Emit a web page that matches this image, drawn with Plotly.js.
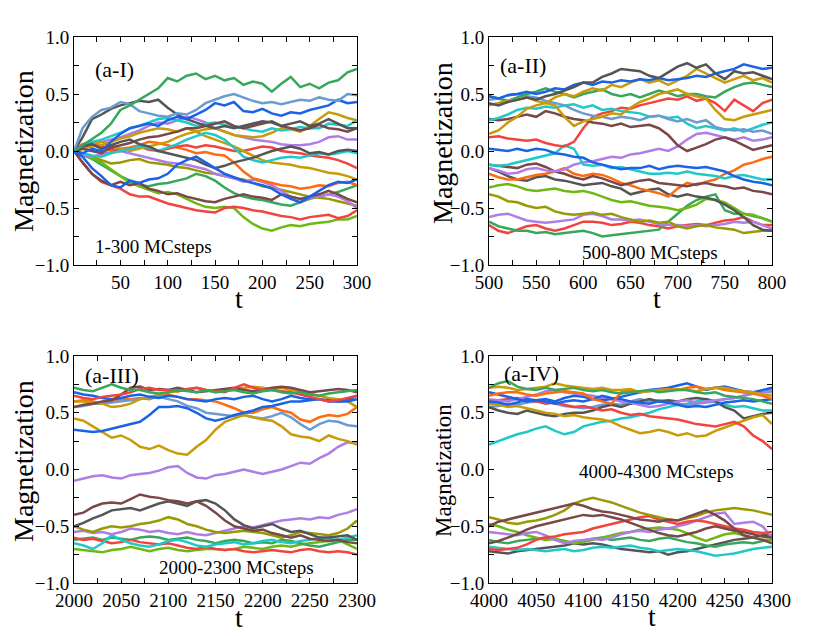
<!DOCTYPE html>
<html><head><meta charset="utf-8">
<script src="https://cdn.plot.ly/plotly-3.0.1.min.js"></script>
<style>html,body{margin:0;padding:0;background:#fff}#chart{width:830px;height:636px}</style>
</head><body><div id="chart"></div>
<script>
// ---------- time grids (every 10 MC steps) ----------
const t1 = [1,10,20,30,40,50,60,70,80,90,100,110,120,130,140,150,160,170,180,190,200,210,220,230,240,250,260,270,280,290,300];
const t2 = [500,510,520,530,540,550,560,570,580,590,600,610,620,630,640,650,660,670,680,690,700,710,720,730,740,750,760,770,780,790,800];
const t3 = [2000,2010,2020,2030,2040,2050,2060,2070,2080,2090,2100,2110,2120,2130,2140,2150,2160,2170,2180,2190,2200,2210,2220,2230,2240,2250,2260,2270,2280,2290,2300];
const t4 = [4000,4010,4020,4030,4040,4050,4060,4070,4080,4090,4100,4110,4120,4130,4140,4150,4160,4170,4180,4190,4200,4210,4220,4230,4240,4250,4260,4270,4280,4290,4300];

// ---------- panel (a-I) 1-300 MCsteps ----------
const p1_green   = [0,0.05,0.1,0.16,0.24,0.36,0.4,0.45,0.5,0.55,0.64,0.61,0.66,0.68,0.63,0.66,0.62,0.64,0.58,0.61,0.59,0.52,0.59,0.65,0.56,0.59,0.55,0.6,0.62,0.69,0.72];
const p1_steel   = [0,0.2,0.3,0.36,0.38,0.43,0.41,0.35,0.33,0.31,0.3,0.33,0.32,0.36,0.42,0.45,0.48,0.5,0.47,0.44,0.42,0.43,0.41,0.43,0.45,0.44,0.47,0.45,0.44,0.5,0.49];
const p1_blueA   = [0,-0.02,0.02,0,0.08,0.15,0.2,0.22,0.24,0.22,0.27,0.3,0.28,0.32,0.36,0.42,0.4,0.43,0.35,0.34,0.37,0.33,0.31,0.34,0.33,0.36,0.38,0.4,0.45,0.42,0.43];
const p1_blueB   = [0,-0.05,-0.15,-0.22,-0.3,-0.32,-0.26,-0.28,-0.25,-0.24,-0.2,-0.12,-0.08,-0.05,-0.1,-0.15,-0.2,-0.23,-0.26,-0.28,-0.3,-0.33,-0.38,-0.42,-0.45,-0.4,-0.35,-0.3,-0.27,-0.28,-0.25];
const p1_grayA   = [0,0.12,0.28,0.32,0.37,0.4,0.42,0.44,0.43,0.45,0.38,0.32,0.28,0.25,0.22,0.2,0.22,0.2,0.22,0.24,0.26,0.25,0.22,0.24,0.26,0.22,0.24,0.28,0.24,0.2,0.2];
const p1_grayB   = [0,0.04,0.06,0.02,0.05,0.08,0.1,0.06,0.04,0,-0.02,-0.04,-0.06,-0.08,-0.12,-0.15,-0.13,-0.1,-0.08,-0.06,-0.03,0,0.02,0.04,0.02,-0.02,-0.01,-0.03,0,0.01,0];
const p1_brownA  = [0,-0.1,-0.2,-0.26,-0.3,-0.27,-0.3,-0.28,-0.33,-0.35,-0.38,-0.37,-0.4,-0.42,-0.44,-0.45,-0.42,-0.4,-0.38,-0.4,-0.41,-0.43,-0.38,-0.4,-0.42,-0.4,-0.38,-0.35,-0.38,-0.42,-0.45];
const p1_brownB  = [0,0.02,0,-0.02,0.03,0.05,0.07,0.1,0.12,0.13,0.15,0.17,0.2,0.2,0.22,0.24,0.26,0.22,0.2,0.22,0.24,0.26,0.22,0.2,0.18,0.2,0.23,0.2,0.19,0.17,0.2];
const p1_cyanA   = [0,0.04,0.08,0.1,0.13,0.16,0.2,0.22,0.25,0.28,0.29,0.27,0.25,0.22,0.24,0.25,0.23,0.21,0.2,0.18,0.17,0.2,0.18,0.19,0.21,0.2,0.2,0.24,0.23,0.22,0.27];
const p1_cyanB   = [0,-0.02,-0.04,-0.05,-0.02,0,0.02,0.04,0.03,0,0.03,0.06,0.1,0.13,0.16,0.14,0.1,0.03,-0.05,-0.08,-0.1,-0.08,-0.06,-0.05,-0.06,-0.04,-0.02,-0.03,-0.02,0,-0.02];
const p1_goldA   = [0,0.02,0.04,0.05,0.08,0.11,0.13,0.16,0.18,0.2,0.19,0.17,0.2,0.17,0.13,0.1,0.07,0.04,0,-0.04,-0.08,-0.1,-0.11,-0.12,-0.14,-0.15,-0.17,-0.19,-0.2,-0.22,-0.25];
const p1_goldB   = [0,0.04,0.06,0.08,0.05,0.02,0,0.02,0.04,0.06,0.08,0.12,0.15,0.17,0.19,0.2,0.17,0.14,0.13,0.12,0.13,0.16,0.2,0.19,0.17,0.22,0.28,0.34,0.32,0.29,0.27];
const p1_redA    = [0,-0.1,-0.2,-0.27,-0.3,-0.33,-0.38,-0.4,-0.4,-0.43,-0.46,-0.48,-0.5,-0.52,-0.53,-0.54,-0.5,-0.49,-0.5,-0.52,-0.53,-0.55,-0.57,-0.58,-0.6,-0.58,-0.57,-0.56,-0.59,-0.57,-0.52];
const p1_redB    = [0,0.06,0.08,0.04,0.02,0,0.02,0.04,0.01,0,0.02,0.04,0.05,0.03,0.05,0.04,0.02,0,0,0.02,0.04,0.03,0,-0.01,-0.02,-0.04,-0.05,-0.06,-0.08,-0.11,-0.15];
const p1_orange  = [0,0.04,0.05,0.03,0,0.02,0.03,0.05,0.08,0.07,0.05,0.03,0.01,-0.02,-0.01,-0.03,-0.04,-0.1,-0.18,-0.24,-0.26,-0.28,-0.3,-0.31,-0.33,-0.32,-0.3,-0.31,-0.28,-0.27,-0.3];
const p1_purpleA = [0,0.03,0.06,0.08,0.1,0.12,0.15,0.18,0.22,0.25,0.24,0.27,0.3,0.28,0.25,0.2,0.17,0.14,0.12,0.1,0.09,0.08,0.06,0.05,0.05,0.06,0.08,0.12,0.13,0.1,0.1];
const p1_purpleB = [0,-0.04,-0.05,-0.03,-0.01,0,-0.02,-0.04,-0.06,-0.08,-0.1,-0.11,-0.12,-0.14,-0.16,-0.2,-0.22,-0.24,-0.27,-0.25,-0.27,-0.3,-0.35,-0.4,-0.42,-0.41,-0.4,-0.38,-0.4,-0.44,-0.5];
const p1_lime    = [0,-0.03,-0.06,-0.1,-0.16,-0.22,-0.28,-0.31,-0.34,-0.37,-0.36,-0.38,-0.42,-0.46,-0.49,-0.5,-0.49,-0.5,-0.58,-0.64,-0.68,-0.7,-0.67,-0.65,-0.66,-0.64,-0.63,-0.62,-0.6,-0.6,-0.57];
const p1_olive   = [0,-0.02,-0.05,-0.08,-0.11,-0.1,-0.08,-0.07,-0.1,-0.11,-0.12,-0.14,-0.15,-0.17,-0.19,-0.2,-0.22,-0.24,-0.25,-0.28,-0.31,-0.32,-0.34,-0.36,-0.38,-0.4,-0.41,-0.42,-0.44,-0.46,-0.48];
const p1_greenB  = [0,-0.03,-0.07,-0.12,-0.17,-0.22,-0.26,-0.3,-0.31,-0.29,-0.28,-0.26,-0.24,-0.2,-0.22,-0.26,-0.32,-0.37,-0.4,-0.42,-0.43,-0.45,-0.47,-0.48,-0.45,-0.42,-0.4,-0.38,-0.36,-0.33,-0.3];

// ---------- panel (a-II) 500-800 MCsteps ----------
const p2_grayA   = [0.42,0.4,0.43,0.45,0.47,0.45,0.48,0.5,0.53,0.56,0.6,0.6,0.65,0.68,0.72,0.71,0.7,0.66,0.64,0.69,0.74,0.77,0.73,0.76,0.68,0.63,0.7,0.68,0.69,0.66,0.63];
const p2_blueA   = [0.48,0.46,0.49,0.5,0.52,0.5,0.52,0.55,0.54,0.58,0.6,0.58,0.61,0.6,0.62,0.61,0.63,0.62,0.64,0.62,0.63,0.64,0.66,0.65,0.68,0.7,0.72,0.76,0.74,0.72,0.73];
const p2_goldA   = [0.15,0.18,0.25,0.3,0.37,0.4,0.42,0.47,0.5,0.48,0.52,0.55,0.53,0.58,0.56,0.6,0.63,0.6,0.62,0.58,0.62,0.66,0.72,0.68,0.64,0.6,0.63,0.66,0.62,0.64,0.6];
const p2_goldB   = [0.4,0.42,0.44,0.45,0.47,0.44,0.42,0.4,0.3,0.22,0.26,0.28,0.3,0.33,0.32,0.38,0.43,0.46,0.5,0.52,0.54,0.5,0.48,0.46,0.36,0.28,0.27,0.3,0.32,0.34,0.36];
const p2_greenA  = [0.48,0.46,0.44,0.47,0.5,0.52,0.55,0.52,0.5,0.47,0.5,0.52,0.54,0.5,0.48,0.5,0.47,0.5,0.53,0.51,0.48,0.5,0.5,0.48,0.47,0.52,0.56,0.59,0.6,0.58,0.56];
const p2_steel   = [0.45,0.46,0.49,0.5,0.48,0.47,0.44,0.42,0.4,0.36,0.33,0.31,0.3,0.28,0.3,0.29,0.27,0.3,0.31,0.28,0.26,0.28,0.25,0.27,0.21,0.19,0.18,0.19,0.17,0.18,0.15];
const p2_cyanA   = [0.27,0.29,0.32,0.36,0.38,0.37,0.39,0.38,0.4,0.41,0.38,0.4,0.36,0.37,0.35,0.34,0.33,0.3,0.31,0.29,0.3,0.24,0.2,0.22,0.2,0.18,0.2,0.17,0.2,0.23,0.25];
const p2_brownA  = [0.28,0.27,0.28,0.3,0.32,0.3,0.35,0.33,0.3,0.28,0.27,0.25,0.24,0.22,0.24,0.21,0.22,0.23,0.2,0.14,0.05,0,0.03,0.06,0.1,0.12,0.09,0.05,0.01,0.03,0.05];
const p2_redA    = [0.12,0.13,0.11,0.1,0.09,0.1,0.07,0.05,0.04,0.08,0.2,0.3,0.33,0.35,0.38,0.37,0.4,0.42,0.44,0.46,0.45,0.48,0.44,0.46,0.42,0.35,0.45,0.4,0.35,0.42,0.45];
const p2_blueB   = [0.02,0.01,0,0.02,0,0.02,0.01,-0.02,-0.03,-0.05,-0.06,-0.1,-0.12,-0.14,-0.16,-0.15,-0.15,-0.13,-0.16,-0.14,-0.13,-0.14,-0.15,-0.14,-0.16,-0.18,-0.22,-0.25,-0.27,-0.28,-0.3];
const p2_cyanB   = [-0.12,-0.13,-0.12,-0.1,-0.08,-0.06,-0.04,-0.02,0.05,0.02,-0.12,-0.13,-0.12,-0.15,-0.14,-0.16,-0.18,-0.2,-0.2,-0.19,-0.2,-0.18,-0.2,-0.21,-0.22,-0.24,-0.22,-0.21,-0.23,-0.25,-0.25];
const p2_purpleA = [-0.15,-0.17,-0.2,-0.19,-0.16,-0.15,-0.17,-0.18,-0.16,-0.12,-0.1,-0.09,-0.07,-0.05,-0.06,-0.03,-0.02,0,0.02,0,0.04,0.1,0.15,0.16,0.14,0.12,0.1,0.12,0.09,0.1,0.12];
const p2_brownB  = [-0.12,-0.13,-0.14,-0.15,-0.12,-0.11,-0.14,-0.18,-0.2,-0.23,-0.25,-0.22,-0.24,-0.27,-0.3,-0.28,-0.26,-0.25,-0.28,-0.29,-0.3,-0.31,-0.29,-0.28,-0.3,-0.31,-0.33,-0.32,-0.35,-0.36,-0.38];
const p2_orange  = [-0.2,-0.23,-0.25,-0.25,-0.23,-0.21,-0.2,-0.18,-0.15,-0.2,-0.22,-0.2,-0.21,-0.24,-0.28,-0.3,-0.33,-0.35,-0.37,-0.4,-0.33,-0.28,-0.3,-0.27,-0.25,-0.2,-0.17,-0.12,-0.1,-0.07,-0.05];
const p2_grayB   = [-0.15,-0.18,-0.22,-0.25,-0.26,-0.23,-0.22,-0.25,-0.26,-0.28,-0.3,-0.29,-0.28,-0.31,-0.33,-0.38,-0.36,-0.34,-0.33,-0.38,-0.4,-0.38,-0.4,-0.41,-0.43,-0.47,-0.52,-0.58,-0.65,-0.69,-0.7];
const p2_lime    = [-0.32,-0.3,-0.29,-0.31,-0.34,-0.35,-0.34,-0.33,-0.35,-0.36,-0.35,-0.37,-0.4,-0.43,-0.45,-0.44,-0.46,-0.48,-0.49,-0.5,-0.52,-0.5,-0.47,-0.42,-0.43,-0.45,-0.5,-0.55,-0.56,-0.59,-0.62];
const p2_olive   = [-0.38,-0.4,-0.44,-0.45,-0.48,-0.5,-0.49,-0.53,-0.55,-0.56,-0.55,-0.54,-0.56,-0.55,-0.58,-0.6,-0.62,-0.61,-0.63,-0.62,-0.66,-0.68,-0.66,-0.65,-0.67,-0.68,-0.69,-0.72,-0.71,-0.7,-0.7];
const p2_purpleB = [-0.58,-0.56,-0.55,-0.58,-0.61,-0.62,-0.63,-0.62,-0.61,-0.6,-0.56,-0.55,-0.57,-0.6,-0.6,-0.61,-0.6,-0.62,-0.64,-0.65,-0.65,-0.66,-0.65,-0.66,-0.65,-0.64,-0.62,-0.63,-0.62,-0.65,-0.68];
const p2_greenB  = [-0.62,-0.66,-0.68,-0.7,-0.7,-0.72,-0.71,-0.73,-0.72,-0.71,-0.7,-0.72,-0.75,-0.74,-0.73,-0.72,-0.71,-0.7,-0.69,-0.62,-0.55,-0.48,-0.43,-0.4,-0.38,-0.52,-0.55,-0.55,-0.57,-0.59,-0.62];
const p2_redB    = [-0.65,-0.7,-0.72,-0.69,-0.66,-0.65,-0.68,-0.7,-0.68,-0.65,-0.62,-0.62,-0.63,-0.65,-0.64,-0.62,-0.63,-0.65,-0.66,-0.68,-0.66,-0.65,-0.64,-0.65,-0.63,-0.61,-0.6,-0.58,-0.62,-0.65,-0.65];

// ---------- panel (a-III) 2000-2300 MCsteps ----------
const p3_greenA  = [0.72,0.7,0.69,0.72,0.75,0.72,0.7,0.7,0.68,0.67,0.68,0.7,0.69,0.68,0.7,0.68,0.69,0.7,0.68,0.67,0.69,0.7,0.68,0.67,0.68,0.66,0.65,0.67,0.68,0.69,0.7];
const p3_redA    = [0.65,0.63,0.62,0.64,0.65,0.66,0.68,0.71,0.72,0.7,0.7,0.69,0.71,0.72,0.7,0.69,0.68,0.72,0.75,0.72,0.7,0.7,0.69,0.68,0.66,0.64,0.62,0.6,0.61,0.63,0.65];
const p3_brownA  = [0.55,0.57,0.58,0.6,0.61,0.66,0.72,0.73,0.7,0.71,0.7,0.72,0.7,0.68,0.69,0.7,0.71,0.72,0.7,0.69,0.7,0.72,0.73,0.72,0.7,0.68,0.69,0.7,0.71,0.7,0.68];
const p3_blueA   = [0.68,0.66,0.65,0.63,0.62,0.63,0.65,0.66,0.64,0.63,0.65,0.64,0.62,0.61,0.6,0.62,0.63,0.62,0.64,0.65,0.62,0.6,0.62,0.65,0.63,0.62,0.62,0.61,0.6,0.6,0.62];
const p3_blueB   = [0.35,0.34,0.33,0.34,0.36,0.38,0.4,0.42,0.48,0.55,0.55,0.56,0.54,0.5,0.45,0.43,0.45,0.48,0.5,0.52,0.55,0.56,0.58,0.6,0.6,0.61,0.62,0.6,0.6,0.61,0.65];
const p3_goldA   = [0.45,0.43,0.38,0.33,0.28,0.3,0.26,0.2,0.18,0.21,0.17,0.14,0.13,0.2,0.26,0.35,0.42,0.45,0.48,0.46,0.44,0.43,0.38,0.31,0.29,0.28,0.25,0.3,0.27,0.25,0.22];
const p3_goldB   = [0.6,0.6,0.59,0.58,0.55,0.56,0.58,0.62,0.64,0.66,0.68,0.69,0.7,0.72,0.7,0.68,0.7,0.71,0.72,0.73,0.72,0.71,0.72,0.7,0.69,0.67,0.65,0.63,0.62,0.6,0.55];
const p3_steel   = [0.55,0.56,0.58,0.58,0.59,0.6,0.61,0.62,0.63,0.64,0.62,0.6,0.56,0.54,0.5,0.49,0.48,0.47,0.48,0.46,0.45,0.47,0.5,0.46,0.4,0.35,0.4,0.43,0.42,0.39,0.38];
const p3_orange  = [0.6,0.61,0.6,0.58,0.6,0.62,0.62,0.63,0.62,0.65,0.66,0.64,0.62,0.62,0.61,0.6,0.57,0.54,0.5,0.5,0.53,0.55,0.52,0.5,0.44,0.42,0.46,0.48,0.47,0.49,0.55];
const p3_purpleA = [-0.1,-0.08,-0.06,-0.05,-0.07,-0.08,-0.05,-0.04,-0.03,-0.01,0.02,0.03,-0.03,-0.07,-0.08,-0.05,-0.04,-0.02,0,-0.02,-0.04,-0.02,0,0.03,0.06,0.05,0.1,0.14,0.2,0.24,0.23];
const p3_brownB  = [-0.4,-0.38,-0.33,-0.3,-0.29,-0.3,-0.26,-0.22,-0.24,-0.25,-0.27,-0.28,-0.3,-0.28,-0.32,-0.38,-0.45,-0.5,-0.52,-0.54,-0.53,-0.56,-0.58,-0.6,-0.58,-0.61,-0.62,-0.63,-0.62,-0.64,-0.65];
const p3_grayB   = [-0.5,-0.47,-0.43,-0.4,-0.36,-0.35,-0.34,-0.36,-0.33,-0.3,-0.28,-0.3,-0.32,-0.28,-0.27,-0.3,-0.36,-0.44,-0.49,-0.52,-0.5,-0.48,-0.52,-0.55,-0.54,-0.57,-0.6,-0.6,-0.59,-0.58,-0.62];
const p3_olive   = [-0.5,-0.53,-0.55,-0.52,-0.5,-0.51,-0.5,-0.48,-0.47,-0.45,-0.42,-0.44,-0.48,-0.5,-0.53,-0.55,-0.56,-0.55,-0.54,-0.55,-0.56,-0.58,-0.6,-0.58,-0.55,-0.56,-0.57,-0.58,-0.56,-0.52,-0.45];
const p3_purpleB = [-0.55,-0.54,-0.56,-0.55,-0.57,-0.55,-0.52,-0.53,-0.55,-0.54,-0.56,-0.57,-0.55,-0.57,-0.58,-0.56,-0.54,-0.52,-0.5,-0.51,-0.49,-0.47,-0.45,-0.44,-0.43,-0.44,-0.42,-0.43,-0.4,-0.38,-0.35];
const p3_redB    = [-0.6,-0.62,-0.61,-0.63,-0.65,-0.64,-0.62,-0.64,-0.65,-0.66,-0.65,-0.67,-0.69,-0.7,-0.68,-0.7,-0.71,-0.7,-0.72,-0.73,-0.72,-0.71,-0.72,-0.73,-0.71,-0.7,-0.72,-0.73,-0.72,-0.73,-0.75];
const p3_greenB  = [-0.62,-0.61,-0.6,-0.62,-0.6,-0.61,-0.62,-0.6,-0.59,-0.6,-0.62,-0.61,-0.6,-0.62,-0.63,-0.65,-0.63,-0.62,-0.63,-0.65,-0.64,-0.65,-0.62,-0.63,-0.65,-0.67,-0.68,-0.66,-0.64,-0.62,-0.62];
const p3_lime    = [-0.7,-0.71,-0.72,-0.73,-0.71,-0.7,-0.68,-0.7,-0.72,-0.7,-0.69,-0.71,-0.72,-0.71,-0.7,-0.7,-0.71,-0.7,-0.68,-0.69,-0.7,-0.68,-0.67,-0.68,-0.66,-0.65,-0.64,-0.63,-0.62,-0.66,-0.7];
const p3_cyan    = [-0.65,-0.67,-0.7,-0.65,-0.58,-0.62,-0.65,-0.67,-0.68,-0.66,-0.63,-0.62,-0.64,-0.67,-0.68,-0.66,-0.65,-0.64,-0.66,-0.65,-0.63,-0.62,-0.64,-0.65,-0.63,-0.62,-0.6,-0.61,-0.62,-0.6,-0.58];

// ---------- panel (a-IV) 4000-4300 MCsteps ----------
const p4_greenA  = [0.72,0.76,0.78,0.73,0.71,0.7,0.72,0.7,0.71,0.72,0.7,0.69,0.7,0.68,0.67,0.68,0.69,0.7,0.68,0.69,0.7,0.7,0.68,0.67,0.68,0.65,0.64,0.63,0.62,0.6,0.58];
const p4_goldA   = [0.72,0.73,0.72,0.7,0.71,0.72,0.73,0.76,0.74,0.73,0.72,0.71,0.72,0.7,0.7,0.71,0.68,0.69,0.7,0.7,0.71,0.7,0.69,0.71,0.72,0.72,0.7,0.69,0.68,0.66,0.65];
const p4_orange  = [0.65,0.67,0.68,0.68,0.66,0.65,0.67,0.68,0.69,0.68,0.67,0.62,0.6,0.58,0.68,0.7,0.68,0.69,0.7,0.71,0.7,0.72,0.73,0.71,0.72,0.7,0.69,0.68,0.67,0.65,0.62];
const p4_blueA   = [0.68,0.66,0.64,0.62,0.6,0.61,0.62,0.6,0.63,0.65,0.64,0.62,0.61,0.62,0.64,0.66,0.68,0.7,0.71,0.72,0.74,0.76,0.73,0.7,0.72,0.73,0.71,0.69,0.68,0.7,0.72];
const p4_blueB   = [0.6,0.59,0.57,0.59,0.62,0.61,0.6,0.58,0.6,0.61,0.6,0.62,0.65,0.63,0.62,0.6,0.59,0.58,0.6,0.59,0.57,0.55,0.56,0.55,0.57,0.59,0.6,0.61,0.6,0.61,0.62];
const p4_purpleA = [0.62,0.61,0.6,0.62,0.64,0.66,0.69,0.7,0.68,0.67,0.66,0.65,0.63,0.62,0.6,0.59,0.57,0.55,0.56,0.58,0.6,0.61,0.59,0.6,0.61,0.62,0.63,0.65,0.67,0.68,0.68];
const p4_redA    = [0.6,0.61,0.62,0.63,0.61,0.6,0.58,0.59,0.57,0.55,0.56,0.54,0.52,0.53,0.5,0.48,0.49,0.47,0.46,0.45,0.44,0.42,0.4,0.39,0.38,0.4,0.42,0.38,0.3,0.25,0.18];
const p4_goldB   = [0.58,0.57,0.55,0.56,0.54,0.52,0.5,0.49,0.47,0.48,0.46,0.45,0.44,0.42,0.38,0.35,0.32,0.33,0.35,0.33,0.3,0.32,0.29,0.3,0.34,0.37,0.4,0.43,0.46,0.48,0.4];
const p4_grayA   = [0.55,0.52,0.5,0.49,0.52,0.5,0.48,0.47,0.49,0.5,0.5,0.52,0.55,0.57,0.55,0.58,0.6,0.62,0.6,0.61,0.6,0.62,0.63,0.62,0.6,0.55,0.52,0.45,0.47,0.49,0.5];
const p4_steel   = [0.55,0.56,0.58,0.57,0.59,0.6,0.6,0.58,0.56,0.55,0.54,0.55,0.57,0.58,0.57,0.6,0.62,0.6,0.61,0.6,0.58,0.57,0.58,0.59,0.6,0.62,0.63,0.65,0.67,0.68,0.7];
const p4_cyanA   = [0.22,0.25,0.28,0.31,0.33,0.36,0.38,0.34,0.31,0.33,0.38,0.4,0.42,0.43,0.45,0.46,0.48,0.5,0.53,0.55,0.57,0.58,0.6,0.62,0.6,0.57,0.55,0.56,0.54,0.52,0.52];
const p4_brownA  = [-0.5,-0.46,-0.44,-0.42,-0.4,-0.38,-0.36,-0.34,-0.32,-0.3,-0.32,-0.35,-0.37,-0.38,-0.4,-0.42,-0.44,-0.45,-0.46,-0.44,-0.45,-0.42,-0.39,-0.36,-0.4,-0.45,-0.52,-0.58,-0.6,-0.62,-0.65];
const p4_olive   = [-0.42,-0.44,-0.47,-0.48,-0.46,-0.45,-0.43,-0.4,-0.36,-0.3,-0.27,-0.25,-0.27,-0.29,-0.32,-0.35,-0.38,-0.4,-0.42,-0.44,-0.45,-0.43,-0.41,-0.38,-0.36,-0.35,-0.34,-0.35,-0.36,-0.38,-0.4];
const p4_brownB  = [-0.65,-0.63,-0.6,-0.57,-0.53,-0.5,-0.48,-0.46,-0.44,-0.42,-0.4,-0.41,-0.4,-0.42,-0.44,-0.47,-0.5,-0.53,-0.56,-0.58,-0.59,-0.57,-0.55,-0.52,-0.5,-0.52,-0.54,-0.55,-0.57,-0.59,-0.6];
const p4_redB    = [-0.7,-0.71,-0.7,-0.69,-0.66,-0.62,-0.6,-0.59,-0.57,-0.56,-0.55,-0.52,-0.5,-0.48,-0.46,-0.44,-0.42,-0.41,-0.44,-0.46,-0.48,-0.46,-0.45,-0.46,-0.48,-0.5,-0.52,-0.53,-0.55,-0.56,-0.55];
const p4_purpleB = [-0.55,-0.56,-0.57,-0.58,-0.56,-0.55,-0.58,-0.62,-0.65,-0.63,-0.62,-0.61,-0.62,-0.6,-0.57,-0.55,-0.54,-0.55,-0.53,-0.52,-0.5,-0.48,-0.45,-0.42,-0.39,-0.38,-0.48,-0.47,-0.46,-0.5,-0.6];
const p4_lime    = [-0.48,-0.5,-0.53,-0.55,-0.58,-0.6,-0.62,-0.61,-0.63,-0.65,-0.64,-0.62,-0.6,-0.58,-0.56,-0.55,-0.53,-0.52,-0.51,-0.52,-0.53,-0.56,-0.6,-0.63,-0.6,-0.57,-0.56,-0.58,-0.6,-0.62,-0.62];
const p4_greenB  = [-0.62,-0.64,-0.65,-0.63,-0.62,-0.61,-0.6,-0.62,-0.63,-0.65,-0.63,-0.61,-0.6,-0.62,-0.61,-0.6,-0.62,-0.63,-0.61,-0.6,-0.62,-0.64,-0.65,-0.67,-0.68,-0.66,-0.65,-0.64,-0.65,-0.63,-0.62];
const p4_cyanB   = [-0.68,-0.69,-0.7,-0.71,-0.7,-0.71,-0.72,-0.71,-0.7,-0.72,-0.71,-0.69,-0.68,-0.69,-0.68,-0.67,-0.69,-0.7,-0.72,-0.71,-0.7,-0.71,-0.72,-0.74,-0.76,-0.75,-0.74,-0.72,-0.7,-0.69,-0.68];
const p4_grayB   = [-0.72,-0.73,-0.74,-0.72,-0.71,-0.7,-0.69,-0.68,-0.67,-0.65,-0.66,-0.65,-0.66,-0.68,-0.7,-0.71,-0.72,-0.73,-0.72,-0.75,-0.73,-0.72,-0.7,-0.68,-0.66,-0.64,-0.62,-0.61,-0.6,-0.58,-0.58];

// ---------- text ----------
const panelLabels = ['(a-I)','(a-II)','(a-III)','(a-IV)'];
const stepLabels  = ['1-300 MCsteps','500-800 MCsteps','2000-2300 MCsteps','4000-4300 MCsteps'];
const yTitle = 'Magnetization';
const xTitle = 't';

// ---------- styling ----------
const C = {
  green:'#36a85c', steel:'#6a9bd3', blue:'#1b63e6', gray:'#555555', brown:'#7a4848',
  cyan:'#20c8c8', gold:'#c99b08', red:'#f2433f', orange:'#ff6b10', purple:'#ae7de6',
  lime:'#6eb814', olive:'#999906'
};

const panels = [
  {t:t1, lines:[[p1_greenB,C.green],[p1_olive,C.olive],[p1_lime,C.lime],[p1_purpleB,C.purple],[p1_purpleA,C.purple],
    [p1_orange,C.orange],[p1_redB,C.red],[p1_redA,C.red],[p1_goldB,C.gold],[p1_goldA,C.gold],[p1_cyanB,C.cyan],
    [p1_cyanA,C.cyan],[p1_brownB,C.brown],[p1_brownA,C.brown],[p1_grayB,C.gray],[p1_grayA,C.gray],[p1_blueB,C.blue],
    [p1_blueA,C.blue],[p1_steel,C.steel],[p1_green,C.green]]},
  {t:t2, lines:[[p2_redB,C.red],[p2_greenB,C.green],[p2_purpleB,C.purple],[p2_olive,C.olive],[p2_lime,C.lime],
    [p2_grayB,C.gray],[p2_orange,C.orange],[p2_brownB,C.brown],[p2_purpleA,C.purple],[p2_cyanB,C.cyan],[p2_blueB,C.blue],
    [p2_redA,C.red],[p2_brownA,C.brown],[p2_cyanA,C.cyan],[p2_steel,C.steel],[p2_greenA,C.green],[p2_goldB,C.gold],
    [p2_goldA,C.gold],[p2_blueA,C.blue],[p2_grayA,C.gray]]},
  {t:t3, lines:[[p3_lime,C.lime],[p3_greenB,C.green],[p3_redB,C.red],[p3_cyan,C.cyan],[p3_purpleB,C.purple],
    [p3_olive,C.olive],[p3_grayB,C.gray],[p3_brownB,C.brown],[p3_purpleA,C.purple],[p3_orange,C.orange],[p3_steel,C.steel],
    [p3_goldB,C.gold],[p3_goldA,C.gold],[p3_blueB,C.blue],[p3_blueA,C.blue],[p3_brownA,C.brown],[p3_redA,C.red],[p3_greenA,C.green]]},
  {t:t4, lines:[[p4_grayB,C.gray],[p4_cyanB,C.cyan],[p4_greenB,C.green],[p4_lime,C.lime],[p4_purpleB,C.purple],
    [p4_redB,C.red],[p4_brownB,C.brown],[p4_olive,C.olive],[p4_brownA,C.brown],[p4_cyanA,C.cyan],[p4_steel,C.steel],
    [p4_grayA,C.gray],[p4_goldB,C.gold],[p4_redA,C.red],[p4_purpleA,C.purple],[p4_blueB,C.blue],[p4_blueA,C.blue],
    [p4_orange,C.orange],[p4_goldA,C.gold],[p4_greenA,C.green]]}
];

const W = 830, H = 636;
const rects = [[74,357,37,265],[489,772,37,265],[74,357,356,583],[489,772,356,583]];
const xRanges = [[1,300],[500,800],[2000,2300],[4000,4300]];
const FONT = '"Liberation Serif", "Times New Roman", Times, serif';

const data = [];
panels.forEach((p,i)=>{
  const sfx = i===0 ? '' : String(i+1);
  p.lines.forEach(([m,col])=>{
    data.push({x:p.t, y:m, type:'scatter', mode:'lines', xaxis:'x'+sfx, yaxis:'y'+sfx,
      line:{color:col, width:2.5}, showlegend:false, hoverinfo:'skip'});
  });
});

const layout = {width:W, height:H, margin:{l:0,r:0,t:0,b:0}, paper_bgcolor:'#fff', plot_bgcolor:'#fff',
  font:{family:FONT, color:'#000'}, showlegend:false, annotations:[]};

rects.forEach((r,i)=>{
  const sfx = i===0 ? '' : String(i+1);
  layout['xaxis'+sfx] = {
    domain:[r[0]/W, r[1]/W], anchor:'y'+sfx, range:xRanges[i], dtick:50, tick0:0,
    showline:true, mirror:'ticks', linecolor:'#000', linewidth:1, ticks:'inside', ticklen:5, tickcolor:'#000',
    minor:{dtick:25, ticks:'inside', ticklen:5, tickcolor:'#000'},
    showgrid:false, zeroline:false, tickfont:{size:19, family:FONT, color:'#000'}, fixedrange:true
  };
  layout['yaxis'+sfx] = {
    domain:[1-r[3]/H, 1-r[2]/H], anchor:'x'+sfx, range:[-1,1], dtick:0.5, tick0:0, tickformat:'.1f',
    showline:true, mirror:'ticks', linecolor:'#000', linewidth:1, ticks:'inside', ticklen:5, tickcolor:'#000',
    minor:{dtick:0.25, ticks:'inside', ticklen:5, tickcolor:'#000'},
    showgrid:false, zeroline:false, tickfont:{size:19, family:FONT, color:'#000'}, fixedrange:true
  };
});

const labelPos = [[93,69],[498,65],[83,375],[502,373]];
const stepPos  = [[93,247],[580,252],[157,567],[577,471]];
const yTitlePos = [[23,151,28],[442,143,28],[23,461,28],[443,471,23]];
const xTitlePos = [[239,299],[657,299],[239,617],[652,616]];
for (let i=0;i<4;i++){
  layout.annotations.push({text:panelLabels[i], xref:'paper', yref:'paper', x:labelPos[i][0]/W, y:1-labelPos[i][1]/H,
    xanchor:'left', yanchor:'middle', showarrow:false, font:{size:22, family:FONT, color:'#000'}});
  layout.annotations.push({text:stepLabels[i], xref:'paper', yref:'paper', x:stepPos[i][0]/W, y:1-stepPos[i][1]/H,
    xanchor:'left', yanchor:'middle', showarrow:false, font:{size:19, family:FONT, color:'#000'}});
  layout.annotations.push({text:yTitle, xref:'paper', yref:'paper', x:yTitlePos[i][0]/W, y:1-yTitlePos[i][1]/H,
    xanchor:'center', yanchor:'middle', textangle:-90, showarrow:false, font:{size:yTitlePos[i][2], family:FONT, color:'#000'}});
  layout.annotations.push({text:xTitle, xref:'paper', yref:'paper', x:xTitlePos[i][0]/W, y:1-xTitlePos[i][1]/H,
    xanchor:'center', yanchor:'middle', showarrow:false, font:{size:28, family:FONT, color:'#000'}});
}

Plotly.newPlot('chart', data, layout, {staticPlot:true, displayModeBar:false});
</script>
</body></html>
